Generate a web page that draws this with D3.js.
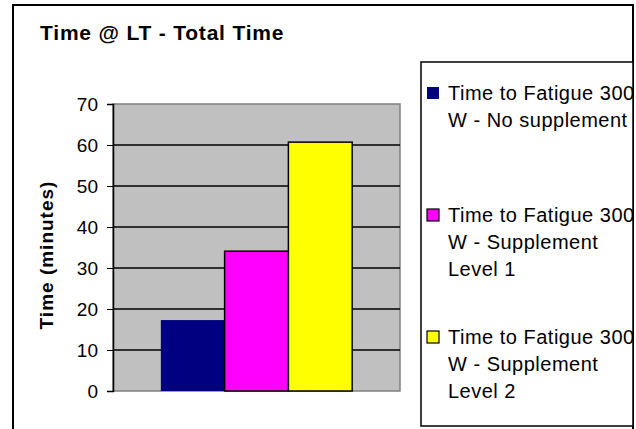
<!DOCTYPE html>
<html>
<head>
<meta charset="utf-8">
<script src="https://cdn.jsdelivr.net/npm/d3@7"></script>
<style>
  body { margin: 0; background: #fff; }
  svg { display: block; font-family: Arial, "Liberation Sans", sans-serif; }
</style>
</head>
<body>
<div id="chart"></div>
<script>
// bar chart - time to fatigue
const category = ["Time @ LT"];
const seriesNames = [
  ["Time to Fatigue 300", "W - No supplement"],
  ["Time to Fatigue 300", "W - Supplement", "Level 1"],
  ["Time to Fatigue 300", "W - Supplement", "Level 2"]
];
const seriesValues = [17.3, 34.1, 60.7];
const seriesColors = ["#000080", "#ff00ff", "#ffff00"];
const yTicks = [0, 10, 20, 30, 40, 50, 60, 70];

const width = 636, height = 429;
const plot = {left: 113, right: 400, top: 104, bottom: 391};

const svg = d3.select('#chart').append('svg')
  .attr('width', width)
  .attr('height', height);

// outer frame
svg.append('rect')
  .attr('x', 13).attr('y', 5)
  .attr('width', 620).attr('height', 440)
  .attr('fill', '#fff')
  .attr('stroke', '#000')
  .attr('stroke-width', 2);

svg.append('text')
  .attr('x', 40).attr('y', 40)
  .attr('font-size', 21)
  .attr('font-weight', 'bold')
  .attr('letter-spacing', 0.8)
  .text('Time @ LT - Total Time');

const scY = d3.scaleLinear()
  .domain([0, 70])
  .range([plot.bottom, plot.top]);

const scX0 = d3.scaleBand()
  .domain(category)
  .range([plot.left, plot.right])
  .paddingInner(0)
  .paddingOuter(0.25);

const scX1 = d3.scaleBand()
  .domain(d3.range(seriesValues.length))
  .range([0, scX0.bandwidth()]);

// plot area
svg.append('rect')
  .attr('x', plot.left).attr('y', plot.top)
  .attr('width', plot.right - plot.left)
  .attr('height', plot.bottom - plot.top)
  .attr('fill', '#c0c0c0')
  .attr('stroke', '#808080')
  .attr('stroke-width', 1.5);

// grid lines
svg.append('g')
  .selectAll('line')
  .data(yTicks.filter(d => d > 0 && d < 70))
  .join('line')
  .attr('x1', plot.left).attr('x2', plot.right)
  .attr('y1', d => scY(d)).attr('y2', d => scY(d))
  .attr('stroke', '#000')
  .attr('stroke-width', 1.5);

// bars
svg.append('g')
  .selectAll('rect')
  .data(seriesValues)
  .join('rect')
  .attr('x', (d, i) => scX0(category[0]) + scX1(i))
  .attr('y', d => scY(d))
  .attr('width', scX1.bandwidth())
  .attr('height', d => scY(0) - scY(d))
  .attr('fill', (d, i) => seriesColors[i])
  .attr('stroke', (d, i) => i === 0 ? 'none' : '#000')
  .attr('stroke-width', 1.5);

// y axis
svg.append('g')
  .attr('transform', `translate(${plot.left}, 0)`)
  .call(d3.axisLeft(scY).tickValues(yTicks).tickSize(6).tickPadding(9))
  .call(g => g.select('.domain').attr('stroke', '#000').attr('stroke-width', 1.5))
  .call(g => g.selectAll('.tick line').attr('stroke', '#000'))
  .call(g => g.selectAll('.tick text')
              .attr('font-size', 19)
              .attr('font-family', 'Arial, "Liberation Sans", sans-serif')
              .attr('fill', '#000'));

svg.append('text')
  .attr('transform', 'translate(53, 255) rotate(-90)')
  .attr('text-anchor', 'middle')
  .attr('font-size', 19)
  .attr('font-weight', 'bold')
  .attr('letter-spacing', 1)
  .text('Time (minutes)');

// legend
svg.append('rect')
  .attr('x', 421).attr('y', 62)
  .attr('width', 212).attr('height', 364)
  .attr('fill', '#fff')
  .attr('stroke', '#000')
  .attr('stroke-width', 1.5);

const legend = svg.append('g')
  .selectAll('g')
  .data(seriesNames)
  .join('g')
  .attr('transform', (d, i) => `translate(427, ${93 + i * 122})`);

legend.append('rect')
  .attr('x', 0).attr('y', -6)
  .attr('width', 12).attr('height', 12)
  .attr('fill', (d, i) => seriesColors[i])
  .attr('stroke', (d, i) => i === 0 ? 'none' : '#000')
  .attr('stroke-width', 1.2);

legend.append('text')
  .attr('font-size', 20)
  .attr('letter-spacing', 0.5)
  .selectAll('tspan')
  .data(d => d)
  .join('tspan')
  .attr('x', 21)
  .attr('y', (d, j) => 7 + j * 27)
  .text(d => d);
</script>
</body>
</html>
